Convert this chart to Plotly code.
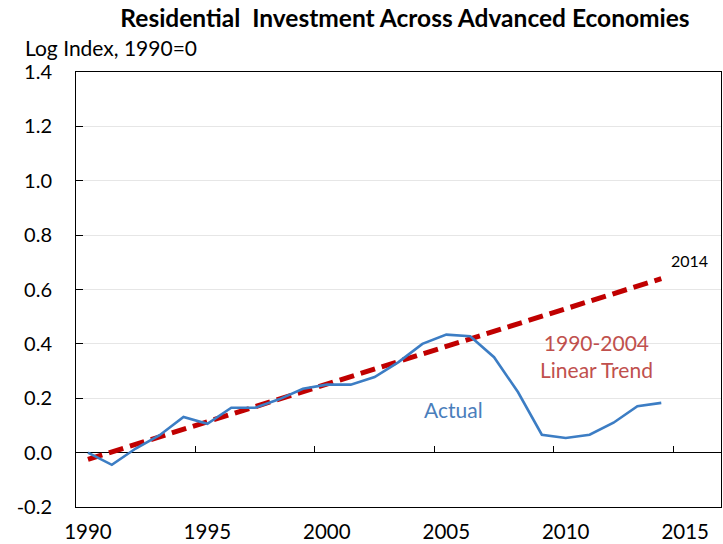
import plotly.graph_objects as go

# ── Data ──────────────────────────────────────────────────────────────────
YEARS = list(range(1990, 2015))
ACTUAL = [0.0, -0.045, 0.015, 0.064, 0.131, 0.106, 0.165, 0.165, 0.196, 0.235,
          0.25, 0.25, 0.278, 0.333, 0.40, 0.434, 0.428, 0.351, 0.223, 0.066,
          0.054, 0.066, 0.11, 0.171, 0.183]
TREND_YEARS = [1990, 2014]
TREND = [-0.025, 0.64]

LABEL_YEARS = [1990, 1995, 2000, 2005, 2010, 2015]
BOUNDARY_TICKS = [1994.5, 1999.5, 2004.5, 2009.5, 2014.5]
Y_TICKS = [-0.2, 0.0, 0.2, 0.4, 0.6, 0.8, 1.0, 1.2, 1.4]

# ── Style ─────────────────────────────────────────────────────────────────
BLUE = "#3C7DC4"
RED = "#C00000"
TREND_TEXT = "#C0504D"
ACTUAL_TEXT = "#4A7EBB"
FONT = "Lato, 'Open Sans', sans-serif"
X_RANGE = [1989.5, 2016.5]

fig = go.Figure()
fig.add_trace(go.Scatter(
    x=YEARS, y=ACTUAL, mode="lines", xaxis="x2",
    line={"color": BLUE, "width": 2.6}, showlegend=False,
))
fig.add_trace(go.Scatter(
    x=TREND_YEARS, y=TREND, mode="lines",
    line={"color": RED, "width": 5, "dash": "15px,7px"}, showlegend=False,
))

fig.add_annotation(x=2014, y=TREND[-1], text="2014", showarrow=False,
                   xanchor="left", yanchor="middle", xshift=8, yshift=18,
                   font={"size": 16, "color": "black"})
fig.add_annotation(x=2011.3, y=0.356, text="1990-2004<br>Linear Trend",
                   showarrow=False, align="center",
                   font={"size": 21, "color": TREND_TEXT})
fig.add_annotation(x=2005.3, y=0.158, text="Actual", showarrow=False,
                   font={"size": 21, "color": ACTUAL_TEXT})
fig.add_annotation(x=(23 - 76) / (723 - 76 - 2),
                   y=1 + (72 - 48) / (544 - 72 - 37),
                   xref="paper", yref="paper",
                   text="Log Index, 1990=0", showarrow=False,
                   xanchor="left", yanchor="middle",
                   font={"size": 21, "color": "black"})

fig.update_layout(
    width=723, height=544,
    margin={"l": 76, "r": 2, "t": 72, "b": 37},
    paper_bgcolor="white", plot_bgcolor="white",
    font={"family": FONT, "color": "black", "size": 20},
    title={"text": "<b>Residential  Investment Across Advanced Economies</b>",
           "x": 405 / 723, "xanchor": "center", "y": 1 - 18 / 544,
           "yanchor": "middle",
           "font": {"size": 24.5, "color": "black"}},
    xaxis={
        "range": X_RANGE, "tickvals": LABEL_YEARS, "ticks": "",
        "showgrid": False, "zeroline": False, "automargin": False,
        "showline": True, "linecolor": "black", "linewidth": 1, "mirror": True,
        "ticklabelstandoff": 6, "tickfont": {"size": 20.5},
    },
    # ticks sit between year categories, on the zero line
    xaxis2={
        "range": X_RANGE, "overlaying": "x", "anchor": "free",
        "position": 0.125, "side": "bottom", "matches": "x",
        "tickvals": BOUNDARY_TICKS, "ticks": "inside", "ticklen": 7,
        "tickcolor": "black", "showticklabels": False, "automargin": False,
        "showgrid": False, "zeroline": False, "showline": False,
    },
    yaxis={
        "range": [-0.2, 1.4], "tickvals": Y_TICKS,
        "ticktext": [f"{v:.1f}" for v in Y_TICKS],  # plain hyphen for -0.2
        "ticks": "inside", "ticklen": 7, "tickcolor": "black",
        "showgrid": True, "gridcolor": "#E6E6E6", "gridwidth": 1,
        "zeroline": True, "zerolinecolor": "black", "zerolinewidth": 1,
        "showline": True, "linecolor": "black", "linewidth": 1, "mirror": True,
        "ticklabelstandoff": 19, "tickfont": {"size": 20}, "automargin": False,
    },
)

fig.write_html("out.html", config={"displayModeBar": False},
               post_script="document.body.style.margin='0';")
